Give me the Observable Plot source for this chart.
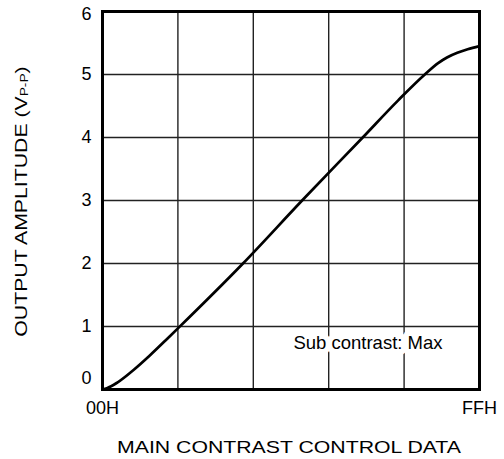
<!DOCTYPE html>
<html>
<head>
<meta charset="utf-8">
<script src="https://cdn.jsdelivr.net/npm/d3@7"></script>
<script src="https://cdn.jsdelivr.net/npm/@observablehq/plot@0.6"></script>
<style>
  html, body { margin: 0; padding: 0; background: #fff; }
  #chart svg { display: block; }
</style>
</head>
<body>
<div id="chart"></div>
<script>
// Main contrast control data (00H..FFH as 0..255)
const codes = [0, 3, 10, 21, 32, 44, 51, 95, 135, 176, 200, 218, 227, 233, 240, 247, 255];
// Output amplitude (Vp-p)
const amplitude = [0, 0.02, 0.11, 0.31, 0.54, 0.81, 0.97, 2.0, 3.0, 4.0, 4.59, 5.0, 5.18, 5.27, 5.345, 5.40, 5.45];
const xTicks = [0, 255];
const xTickLabels = ["00H", "FFH"];
const xGrid = [51, 102, 153, 204];
const yTicks = [0, 1, 2, 3, 4, 5, 6];
const yGrid = [1, 2, 3, 4, 5];
const note = "Sub contrast: Max";
const xLabel = "MAIN CONTRAST CONTROL DATA";
const yLabelMain = "OUTPUT AMPLITUDE (V";
const yLabelSub = "P-P";
const yLabelEnd = ")";

const data = codes.map((c, i) => ({code: c, amp: amplitude[i]}));
const font = "'Liberation Sans', Arial, sans-serif";

const chart = Plot.plot({
  width: 504,
  height: 459,
  marginLeft: 102,
  marginRight: 25,
  marginTop: 11,
  marginBottom: 70,
  style: {fontFamily: font, fontSize: "18px", color: "#000", background: "#fff"},
  x: {domain: [0, 255]},
  y: {domain: [0, 6]},
  marks: [
    Plot.ruleX(xGrid, {stroke: "#222", strokeWidth: 1.4}),
    Plot.ruleY(yGrid, {stroke: "#222", strokeWidth: 1.4}),
    Plot.line(data, {x: "code", y: "amp", curve: "monotone-x", stroke: "#000", strokeWidth: 2.7}),
    Plot.axisX(xTicks, {tickFormat: (d) => xTickLabels[xTicks.indexOf(d)], tickSize: 0, tickPadding: 12, label: null, fontSize: 18}),
    Plot.axisY(yTicks.filter((d) => d > 0 && d < 6), {tickFormat: "d", tickSize: 0, tickPadding: 11, label: null, fontSize: 18}),
    Plot.axisY(yTicks.filter((d) => d === 6), {tickFormat: "d", tickSize: 0, tickPadding: 11, dy: 3, label: null, fontSize: 18}),
    Plot.axisY(yTicks.filter((d) => d === 0), {tickFormat: "d", tickSize: 0, tickPadding: 11, dy: -11, label: null, fontSize: 18}),
    Plot.text([note], {frameAnchor: "bottom-right", textAnchor: "end", lineAnchor: "bottom", dx: -37, dy: -41, text: (d) => d, fontSize: 18.5, fill: "#000", stroke: "#fff", strokeWidth: 11, paintOrder: "stroke", strokeLinejoin: "round"}),
    Plot.frame({stroke: "#000", strokeWidth: 3})
  ]
});

const svg = d3.select(chart);
svg.append("text")
  .attr("transform", "translate(289,453) scale(1.25,1)")
  .attr("text-anchor", "middle")
  .attr("font-family", font)
  .attr("font-size", 17)
  .attr("fill", "#000")
  .text(xLabel);

const yl = svg.append("text")
  .attr("transform", "translate(27,201.5) rotate(-90) scale(1.25,1)")
  .attr("text-anchor", "middle")
  .attr("font-family", font)
  .attr("font-size", 17)
  .attr("fill", "#000");
yl.append("tspan").text(yLabelMain);
yl.append("tspan").attr("font-size", 11).attr("dy", 1).text(yLabelSub);
yl.append("tspan").attr("dy", -1).text(yLabelEnd);

document.getElementById("chart").appendChild(chart);
</script>
</body>
</html>
